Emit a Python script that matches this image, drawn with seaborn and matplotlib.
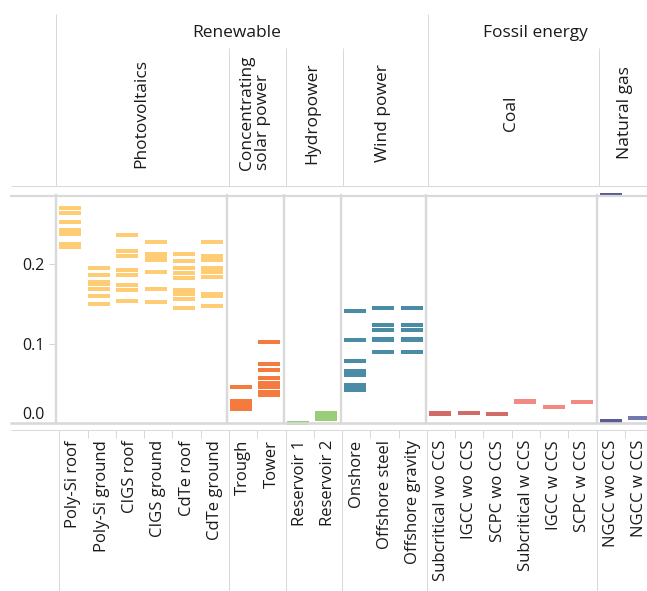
import pandas as pd
import seaborn as sns
import matplotlib.pyplot as plt
from matplotlib.lines import Line2D
from matplotlib.transforms import Affine2D, blended_transform_factory

# ---------------- data ----------------
sectors = ["Renewable", "Fossil energy"]
sector_sizes = [13, 8]

groups = ["Photovoltaics", "Concentrating\nsolar power", "Hydropower",
          "Wind power", "Coal", "Natural gas"]
group_sizes = [6, 2, 2, 3, 6, 2]

technologies = ["Poly-Si roof", "Poly-Si ground", "CIGS roof", "CIGS ground",
                "CdTe roof", "CdTe ground", "Trough", "Tower",
                "Reservoir 1", "Reservoir 2", "Onshore", "Offshore steel",
                "Offshore gravity", "Subcritical wo CCS", "IGCC wo CCS",
                "SCPC wo CCS", "Subcritical w CCS", "IGCC w CCS", "SCPC w CCS",
                "NGCC wo CCS", "NGCC w CCS"]

color_keys = (["PV"] * 6 + ["CSP"] * 2 + ["Hydro"] * 2 + ["Wind"] * 3
              + ["Coal wo CCS"] * 3 + ["Coal w CCS"] * 3
              + ["NGCC wo CCS", "NGCC w CCS"])

palette = {"PV": "#FDCC74", "CSP": "#F47B3D", "Hydro": "#9ACD78",
           "Wind": "#4A8BA6", "Coal wo CCS": "#D06B67",
           "Coal w CCS": "#F38A82", "NGCC wo CCS": "#595C8F",
           "NGCC w CCS": "#7478B2"}

poly_si_roof = [0.2708, 0.2645, 0.2532, 0.2431, 0.2381, 0.2255, 0.2218]
poly_si_ground = [0.1953, 0.1865, 0.1777, 0.1753, 0.1689, 0.1601, 0.1501]
cigs_roof = [0.2369, 0.2167, 0.2104, 0.1928, 0.1865, 0.1740, 0.1677, 0.1538]
cigs_ground = [0.2280, 0.2130, 0.2092, 0.2054, 0.1903, 0.1689, 0.1526]
cdte_roof = [0.2130, 0.2042, 0.1953, 0.1890, 0.1828, 0.1677, 0.1627,
             0.1564, 0.1450]
cdte_ground = [0.2280, 0.2104, 0.2054, 0.1953, 0.1903, 0.1840, 0.1627,
               0.1601, 0.1475]
trough = [0.0457, 0.0280, 0.0230, 0.0180]
tower = [0.1023, 0.0746, 0.0670, 0.0570, 0.0507, 0.0457, 0.0394, 0.0356]
reservoir_1 = [0.0010]
reservoir_2 = [0.0130, 0.0092, 0.0054]
onshore = [0.1413, 0.1048, 0.0784, 0.0658, 0.0608, 0.0482, 0.0444, 0.0419]
offshore_steel = [0.1450, 0.1237, 0.1174, 0.1060, 0.1048, 0.0897]
offshore_gravity = [0.1450, 0.1237, 0.1174, 0.1060, 0.1048, 0.0897]
subcritical_wo_ccs = [0.0129, 0.0117]
igcc_wo_ccs = [0.0130]
scpc_wo_ccs = [0.0117]
subcritical_w_ccs = [0.0280, 0.0268]
igcc_w_ccs = [0.0205]
scpc_w_ccs = [0.0268]
ngcc_wo_ccs = [0.2875, 0.0029]
ngcc_w_ccs = [0.0067]

series = [poly_si_roof, poly_si_ground, cigs_roof, cigs_ground, cdte_roof,
          cdte_ground, trough, tower, reservoir_1, reservoir_2, onshore,
          offshore_steel, offshore_gravity, subcritical_wo_ccs, igcc_wo_ccs,
          scpc_wo_ccs, subcritical_w_ccs, igcc_w_ccs, scpc_w_ccs,
          ngcc_wo_ccs, ngcc_w_ccs]

y_ticks = [0.0, 0.1, 0.2]
y_tick_labels = ["0.0", "0.1", "0.2"]

rows = []
for tech, key, vals in zip(technologies, color_keys, series):
    for v in vals:
        rows.append({"technology": tech, "value": v, "kind": key})
df = pd.DataFrame(rows)

# ---------------- figure ----------------
sns.set_theme(style="white")
plt.rcParams["font.family"] = ["Open Sans", "DejaVu Sans"]

W, H, DPI = 647, 591, 100
fig = plt.figure(figsize=(W / DPI, H / DPI), dpi=DPI)

band = 28.45
left_px, top_px, bot_px = 56.0, 195.7, 423.3
right_px = left_px + band * len(technologies)
ax = fig.add_axes([left_px / W, 1 - bot_px / H,
                   (right_px - left_px) / W, (bot_px - top_px) / H])

sns.scatterplot(data=df, x="technology", y="value", hue="kind",
                palette=palette, marker="_", s=(22 * 72 / DPI) ** 2,
                linewidth=4 * 72 / DPI, legend=False, ax=ax, clip_on=False,
                zorder=2)

ax.set_xlim(-0.5, len(technologies) - 0.5)
ax.set_ylim(0, 0.2863)
ax.set_xticks([])
ax.set_xlabel("")
ax.set_ylabel("")
ax.set_yticks(y_ticks)
ax.set_yticklabels(y_tick_labels)
ax.tick_params(axis="y", left=True, length=5, width=0.8, color="#d6d6d6",
               pad=3, labelsize=11.5, labelcolor="#1a1a1a")
ax.yaxis.get_major_ticks()[0].label1.set_va("bottom")
for s in ax.spines.values():
    s.set_visible(False)
ax.patch.set_alpha(0)

# pixel-space helpers (y measured from the top edge)
pix = Affine2D().scale(1 / W, -1 / H).translate(0, 1) + fig.transFigure
xdata_ypix = blended_transform_factory(ax.transData, pix)
# the label table below the plot is laid out on a slightly tighter grid
label_grid = xdata_ypix + Affine2D().translate(-left_px, 0).scale(0.994, 1) \
    .translate(left_px + 3.3, 0)
GRID = "#d9d9d9"


def hline(y, x0=10, x1=W, lw=1.0):
    fig.add_artist(Line2D([x0, x1], [y, y], transform=pix, color=GRID,
                          lw=lw * 72 / DPI, zorder=5, solid_capstyle="butt"))


def vline(x, y0, y1, lw=1.0, transform=None):
    fig.add_artist(Line2D([x, x], [y0, y1],
                          transform=transform or xdata_ypix, color=GRID,
                          lw=lw * 72 / DPI, zorder=5, solid_capstyle="butt"))


# boundaries between groups / sectors in category units
group_edges = [-0.5]
for n in group_sizes:
    group_edges.append(group_edges[-1] + n)
sector_edges = [-0.5]
for n in sector_sizes:
    sector_edges.append(sector_edges[-1] + n)

# plot frame
hline(top_px, lw=2.2)
hline(bot_px, lw=2.6)
for e in group_edges[:-1]:
    vline(e, top_px - 1.5, bot_px, lw=2.4)

# header table
header_shift = xdata_ypix + Affine2D().translate(2, 0)
hline(185.5, x0=11, lw=1.0)
vline(sector_edges[0], 14, 185.5)
for e in sector_edges[1:-1]:
    vline(e, 14, 185.5, transform=header_shift)
for e in group_edges[1:-1]:
    if e not in sector_edges:
        vline(e, 48, 185.5, transform=header_shift)

for name, a, b in zip(sectors, sector_edges[:-1], sector_edges[1:]):
    fig.text((a + b) / 2, 33, name,
             transform=xdata_ypix + Affine2D().translate(-4, 0),
             fontsize=12.5, color="#1a1a1a", ha="center", va="center")

for name, a, b in zip(groups, group_edges[:-1], group_edges[1:]):
    fig.text((a + b) / 2, 113, name, transform=xdata_ypix, rotation=90,
             fontsize=12.5, color="#1a1a1a", ha="center", va="center",
             multialignment="left", linespacing=1.0)

# category label table
hline(429.5, x0=11, lw=1.0)
for e in group_edges[:-1]:
    vline(e, 429.5, H, transform=label_grid)
for i in range(1, len(technologies)):
    e = i - 0.5
    if e not in group_edges:
        vline(e, 429.5, 437.5, transform=label_grid)

for i, tech in enumerate(technologies):
    fig.text(i, 440, tech, transform=label_grid, rotation=90, fontsize=12,
             color="#1a1a1a", ha="center", va="top")

fig.savefig("out.png", dpi=DPI)
